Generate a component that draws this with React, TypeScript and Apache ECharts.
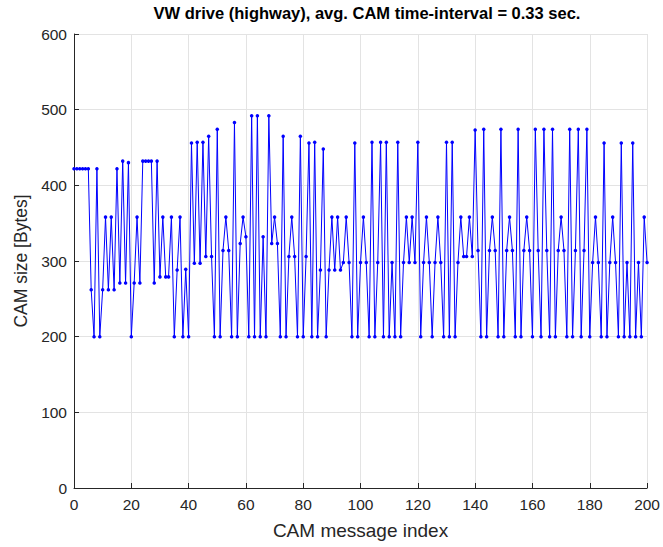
import React, { useEffect, useRef } from "react";
import * as echarts from "echarts";

const TITLE = "VW drive (highway), avg. CAM time-interval = 0.33 sec.";
const X_LABEL = "CAM message index";
const Y_LABEL = "CAM size [Bytes]";

// CAM sizes in bytes, message index 0..200
const camSizes: number[] = [
  422, 422, 422, 422, 422, 422, 262, 200, 422, 200,
  262, 358, 262, 358, 262, 422, 271, 432, 271, 430,
  200, 271, 358, 271, 432, 432, 432, 432, 271, 432,
  279, 358, 279, 279, 358, 200, 288, 358, 200, 289,
  200, 456, 297, 457, 297, 457, 306, 465, 306, 200,
  474, 200, 314, 358, 314, 200, 483, 200, 323, 358,
  332, 200, 492, 200, 492, 200, 332, 200, 492, 323,
  358, 323, 200, 465, 200, 306, 358, 306, 200, 465,
  200, 306, 456, 200, 457, 200, 288, 448, 200, 288,
  358, 288, 358, 288, 298, 358, 298, 200, 456, 200,
  298, 358, 298, 200, 457, 200, 298, 457, 200, 457,
  200, 298, 200, 457, 200, 298, 358, 298, 358, 298,
  457, 200, 298, 358, 298, 200, 298, 358, 298, 200,
  457, 200, 457, 200, 298, 358, 306, 306, 358, 306,
  473, 314, 200, 474, 200, 314, 358, 314, 200, 474,
  200, 314, 358, 314, 200, 474, 200, 314, 358, 314,
  200, 474, 314, 200, 474, 314, 200, 474, 200, 314,
  358, 314, 200, 474, 200, 314, 474, 200, 314, 474,
  200, 298, 358, 298, 200, 456, 200, 298, 358, 298,
  200, 456, 200, 298, 200, 456, 200, 298, 200, 358,
  298,
];

const X_MIN = 0;
const X_MAX = 200;
const X_STEP = 20;
const Y_MIN = 0;
const Y_MAX = 600;
const Y_STEP = 100;

export default function App() {
  const ref = useRef<HTMLDivElement>(null);

  useEffect(() => {
    if (!ref.current) return;
    const chart = echarts.init(ref.current, undefined, { renderer: "svg" });
    const font = "'Liberation Sans', Arial, Helvetica, sans-serif";
    const data = camSizes.map((v, i) => [i, v]);
    chart.setOption({
      animation: false,
      backgroundColor: "#ffffff",
      title: {
        text: TITLE,
        left: 362,
        textAlign: "center",
        top: -1,
        textStyle: { fontFamily: font, fontSize: 16.5, fontWeight: "bold", color: "#000000" },
      },
      grid: { left: 74, right: 13, top: 34, bottom: 59, containLabel: false },
      xAxis: {
        type: "value",
        min: X_MIN,
        max: X_MAX,
        interval: X_STEP,
        name: X_LABEL,
        nameLocation: "middle",
        nameGap: 33,
        nameTextStyle: { fontFamily: font, fontSize: 19, color: "#262626" },
        axisLine: { show: true, onZero: false, lineStyle: { color: "#262626", width: 1 } },
        axisTick: { show: true, inside: true, length: 5, lineStyle: { color: "#262626" } },
        axisLabel: { fontFamily: font, fontSize: 15.5, color: "#262626", margin: 8 },
        splitLine: { show: true, lineStyle: { color: "#e3e3e3", width: 1 } },
      },
      yAxis: {
        type: "value",
        min: Y_MIN,
        max: Y_MAX,
        interval: Y_STEP,
        name: Y_LABEL,
        nameLocation: "middle",
        nameGap: 42,
        nameTextStyle: { fontFamily: font, fontSize: 17.5, color: "#262626" },
        axisLine: { show: true, lineStyle: { color: "#262626", width: 1 } },
        axisTick: { show: true, inside: true, length: 5, lineStyle: { color: "#262626" } },
        axisLabel: { fontFamily: font, fontSize: 15.5, color: "#262626", margin: 7 },
        splitLine: { show: true, lineStyle: { color: "#e3e3e3", width: 1 } },
      },
      series: [
        {
          type: "line",
          data,
          showSymbol: true,
          symbol: "circle",
          symbolSize: 3.5,
          itemStyle: { color: "#0000ff" },
          lineStyle: { color: "#0000ff", width: 1 },
        },
      ],
    });
    return () => chart.dispose();
  }, []);

  return (
    <div
      ref={ref}
      style={{ position: "fixed", left: 0, top: 0, width: 663, height: 547, background: "#fff" }}
    />
  );
}
